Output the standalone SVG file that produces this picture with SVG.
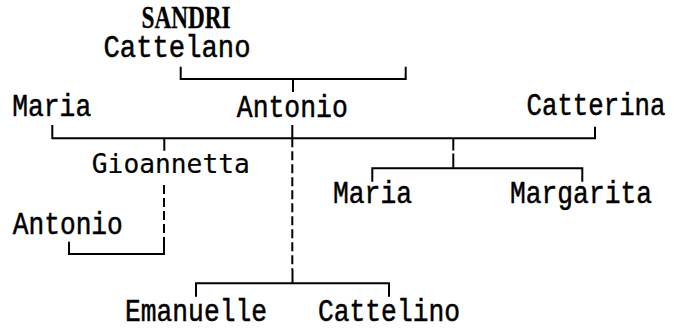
<svg xmlns="http://www.w3.org/2000/svg" width="674" height="328" viewBox="0 0 674 328">
<style>
text{font-family:"Liberation Mono","DejaVu Sans Mono",monospace;font-size:31px;fill:#000;stroke:#000;stroke-width:0.5;text-anchor:middle}
.sans{font-family:"DejaVu Sans Mono","Liberation Mono",monospace;font-size:27px;stroke-width:0.2}
.bold{font-family:"Liberation Serif",serif;font-weight:bold;font-size:31px;stroke-width:0.3}
.ln{fill:none;stroke:#000;stroke-width:2}
.dash{stroke-dasharray:9 4}
</style>
<rect width="674" height="328" fill="#fff"/>
<g id="connectors">
<path class="ln" d="M180.7,66.7 V79 H405.7 V66.7 M293,79 V92"/>
<path class="ln" d="M52.3,125 V138.3 H595 V126.7 M164.3,138.3 V150.7 M292.3,125 V138.3"/>
<path class="ln dash" d="M292.3,138.3 V270"/>
<path class="ln" d="M453.3,138.3 V150.5 M453.3,153.5 V168.3 M372.3,181.7 V168.3 H582.3 V181.7"/>
<path class="ln dash" d="M164,185 V242"/>
<path class="ln" d="M164,242 V254 H69 V241.7"/>
<path class="ln" d="M292.5,270 V283.3 M196,296.7 V283.3 H389 V296.7"/>
</g>
<g id="sandri"><text class="bold" x="186" y="28" textLength="89" lengthAdjust="spacingAndGlyphs">SANDRI</text>
<text x="177" y="57" textLength="147" lengthAdjust="spacingAndGlyphs">Cattelano</text></g>
<g id="maria1"><text x="51.7" y="116" textLength="79" lengthAdjust="spacingAndGlyphs">Maria</text></g>
<g id="antonio1"><text x="292.3" y="117" textLength="111" lengthAdjust="spacingAndGlyphs">Antonio</text></g>
<g id="catterina"><text x="596" y="115" textLength="139" lengthAdjust="spacingAndGlyphs">Catterina</text></g>
<g id="gioannetta"><text class="sans" x="170.8" y="173" textLength="158" lengthAdjust="spacingAndGlyphs">Gioannetta</text></g>
<g id="maria2"><text x="372.5" y="203" textLength="79" lengthAdjust="spacingAndGlyphs">Maria</text></g>
<g id="margarita"><text x="581" y="203" textLength="142" lengthAdjust="spacingAndGlyphs">Margarita</text></g>
<g id="antonio2"><text x="67.8" y="234" textLength="110" lengthAdjust="spacingAndGlyphs">Antonio</text></g>
<g id="emanuelle"><text x="196" y="321" textLength="142" lengthAdjust="spacingAndGlyphs">Emanuelle</text></g>
<g id="cattelino"><text x="389" y="321" textLength="142" lengthAdjust="spacingAndGlyphs">Cattelino</text></g>
</svg>
